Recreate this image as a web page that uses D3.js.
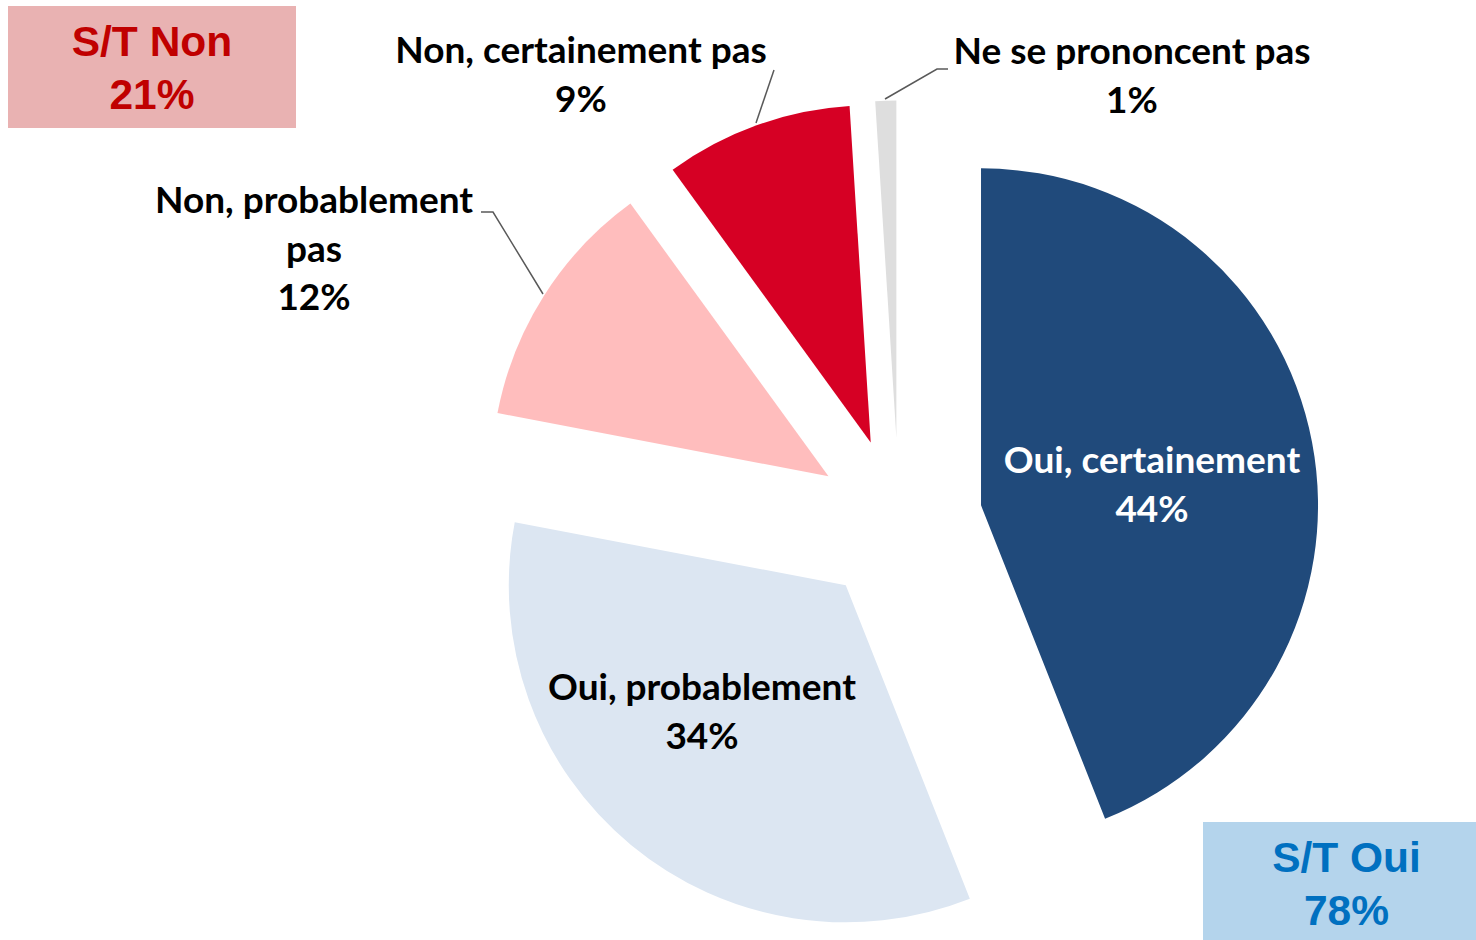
<!DOCTYPE html>
<html>
<head>
<meta charset="utf-8">
<script src="https://cdn.jsdelivr.net/npm/d3@7"></script>
<style>
  body { margin: 0; background: #fff; }
  svg { display: block; }
</style>
</head>
<body>
<div id="chart"></div>
<script>
// données
const categories = ["Oui, certainement", "Oui, probablement", "Non, probablement pas", "Non, certainement pas", "Ne se prononcent pas"];
const values = [44, 34, 12, 9, 1];
const colors = ["#204a7b", "#dce6f2", "#ffbdbd", "#d60024", "#dedede"];
const labelLines = [["Oui, certainement"], ["Oui, probablement"], ["Non, probablement", "pas"], ["Non, certainement pas"], ["Ne se prononcent pas"]];
const totals = [{ name: "S/T Non", value: 21 }, { name: "S/T Oui", value: 78 }];

const width = 1476, height = 940;
const cx = 899, cy = 521, radius = 337, explode = 83.5;

const svg = d3.select('#chart')
    .append('svg')
    .attr('width', width)
    .attr('height', height);

const pie = d3.pie().sort(null).value(d => d)(values);
const arc = d3.arc().innerRadius(0).outerRadius(radius);

const g = svg.append('g').attr('transform', `translate(${cx},${cy})`);

// parts éclatées
g.selectAll('path')
    .data(pie)
    .join('path')
    .attr('d', arc)
    .attr('fill', (d, i) => colors[i])
    .attr('transform', d => {
        const a = (d.startAngle + d.endAngle) / 2;
        return `translate(${Math.sin(a) * explode},${-Math.cos(a) * explode})`;
    });

// position des étiquettes (centre du bloc, couleur, ligne de rappel)
const labelLayout = [
    { x: 1152, y: 473, fill: '#fff' },
    { x: 702, y: 700, fill: '#000' },
    { x: 314, y: 213, fill: '#000', leader: [[481, 212], [493, 212], [543, 294]] },
    { x: 581, y: 63, fill: '#000', leader: [[774, 70], [756, 123]] },
    { x: 1132, y: 64, fill: '#000', leader: [[948, 69], [937, 69], [885, 99]] }
];

const line = d3.line();
labelLayout.forEach((l, i) => {
    if (l.leader) {
        svg.append('path')
            .attr('d', line(l.leader))
            .attr('fill', 'none')
            .attr('stroke', '#595959')
            .attr('stroke-width', 1.5);
    }
    const t = svg.append('text')
        .attr('text-anchor', 'middle')
        .attr('font-family', 'Lato, "Open Sans", sans-serif')
        .attr('font-weight', 'bold')
        .attr('font-size', 37)
        .attr('fill', l.fill);
    const lines = labelLines[i].concat([values[i] + '%']);
    lines.forEach((s, k) => {
        t.append('tspan').attr('x', l.x).attr('y', l.y + k * 48.5).text(s);
    });
});

// encadrés des sous-totaux
const boxes = [
    { x: 8, y: 6, w: 288, h: 122, fill: '#e9b2b2', color: '#c00000' },
    { x: 1203, y: 822, w: 273, h: 118, fill: '#b4d4ec', color: '#0070c0' }
];
totals.forEach((d, i) => {
    const b = boxes[i];
    svg.append('rect')
        .attr('x', b.x).attr('y', b.y)
        .attr('width', b.w).attr('height', b.h)
        .attr('fill', b.fill);
    const t = svg.append('text')
        .attr('text-anchor', 'middle')
        .attr('font-family', '"Liberation Sans", Arial, sans-serif')
        .attr('font-weight', 'bold')
        .attr('font-size', 42.5)
        .attr('fill', b.color);
    const mx = b.x + b.w / 2 + (i === 1 ? 7 : 0);
    t.append('tspan').attr('x', mx).attr('y', b.y + 50).text(d.name);
    t.append('tspan').attr('x', mx).attr('y', b.y + 103).text(d.value + '%');
});
</script>
</body>
</html>
